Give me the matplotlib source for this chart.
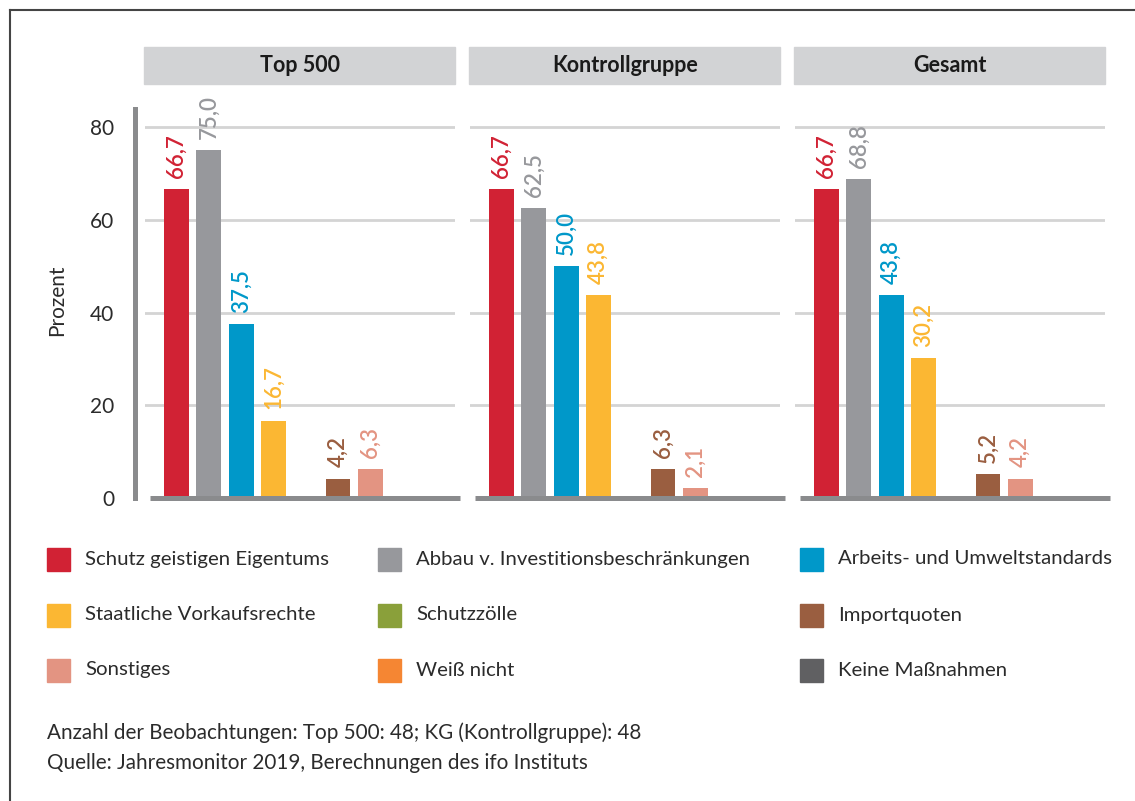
import numpy as np
import matplotlib.pyplot as plt
from matplotlib.patches import Rectangle
from matplotlib.lines import Line2D

plt.rcParams['font.family'] = ['Lato', 'DejaVu Sans']

# Daten
panels = ["Top 500", "Kontrollgruppe", "Gesamt"]
categories = ["Schutz geistigen Eigentums", "Abbau v. Investitionsbeschränkungen",
              "Arbeits- und Umweltstandards", "Staatliche Vorkaufsrechte", "Schutzzölle",
              "Importquoten", "Sonstiges", "Weiß nicht", "Keine Maßnahmen"]
colors = ["#d12234", "#97989c", "#0098c9", "#fbb733", "#8aa03a",
          "#9a5e40", "#e39482", "#f58633", "#606062"]
top500 = [66.7, 75.0, 37.5, 16.7, 0, 4.2, 6.3, 0, 0]
kontrollgruppe = [66.7, 62.5, 50.0, 43.8, 0, 6.3, 2.1, 0, 0]
gesamt = [66.7, 68.8, 43.8, 30.2, 0, 5.2, 4.2, 0, 0]
values = [top500, kontrollgruppe, gesamt]
yticks = [0, 20, 40, 60, 80]
footnotes = ["Anzahl der Beobachtungen: Top 500: 48; KG (Kontrollgruppe): 48",
             "Quelle: Jahresmonitor 2019, Berechnungen des ifo Instituts"]

W, H = 1135, 801
fig = plt.figure(figsize=(W / 100, H / 100), dpi=100)
text_col = "#2b2b2b"
axis_col = "#8a8b8d"

x = np.arange(len(categories))
lefts = [145, 470, 795]
for i, (name, vals) in enumerate(zip(panels, values)):
    ax = fig.add_axes([lefts[i] / W, (H - 498) / H, 310 / W, 389.5 / H])
    ax.set_xlim(-0.975, 8.625)
    ax.set_ylim(0, 84)
    for v in yticks[1:]:
        ax.axhline(v, color="#d4d4d4", lw=2, zorder=0)
    ax.bar(x, vals, width=0.77, color=colors, zorder=2)
    for xi, v, c in zip(x, vals, colors):
        if v > 0:
            ax.annotate(f"{v:.1f}".replace(".", ","), (xi, v), xytext=(0, 8),
                        textcoords="offset points", rotation=90, ha="center",
                        va="bottom", color=c, fontsize=16, fontweight="semibold")
    # Basislinie
    ax.plot([0.016, 1.016], [0, 0], transform=ax.get_yaxis_transform(),
            color=axis_col, lw=3.6, clip_on=False, solid_capstyle="butt", zorder=3)
    # Kopfzeile
    ax.add_patch(Rectangle((-0.003, 1.063), 1.003, 0.095, transform=ax.transAxes,
                           color="#d2d3d5", clip_on=False))
    ax.text(0.5, 1.11, name, transform=ax.transAxes, ha="center", va="center",
            fontsize=15.5, fontweight="bold", color="#1a1a1a")
    for s in ["top", "right", "bottom"]:
        ax.spines[s].set_visible(False)
    ax.set_xticks([])
    if i == 0:
        ax.spines["left"].set_position(("axes", -0.032))
        ax.spines["left"].set_color(axis_col)
        ax.spines["left"].set_linewidth(3.6)
        ax.set_yticks(yticks)
        ax.tick_params(axis="y", length=0, pad=15, labelsize=15, labelcolor=text_col)
    else:
        ax.spines["left"].set_visible(False)
        ax.set_yticks([])

fig.text(57 / W, 1 - 300 / H, "Prozent", rotation=90, ha="center", va="center",
         fontsize=15, color=text_col)

# Legende
col_x = [47, 378, 800]
row_y = [559, 615, 670]
for k, (lab, c) in enumerate(zip(categories, colors)):
    cx = col_x[k % 3]
    cy = row_y[k // 3]
    fig.patches.append(Rectangle((cx / W, (H - cy - 11.5) / H), 23 / W, 23 / H,
                                 transform=fig.transFigure, color=c))
    fig.text((cx + 38) / W, 1 - cy / H, lab, ha="left", va="center",
             fontsize=14.7, color=text_col)

for j, line in enumerate(footnotes):
    fig.text(47 / W, 1 - (733 + 30 * j) / H, line, ha="left", va="center",
             fontsize=14.9, color=text_col)

# Rahmen
fig.add_artist(Line2D([10 / W, 10 / W], [0, 1 - 9.5 / H], transform=fig.transFigure,
                      color="#444444", lw=1.5))
fig.add_artist(Line2D([10 / W, 1], [1 - 9.5 / H, 1 - 9.5 / H], transform=fig.transFigure,
                      color="#444444", lw=1.5))

fig.savefig("out.png", dpi=100, facecolor="white")
